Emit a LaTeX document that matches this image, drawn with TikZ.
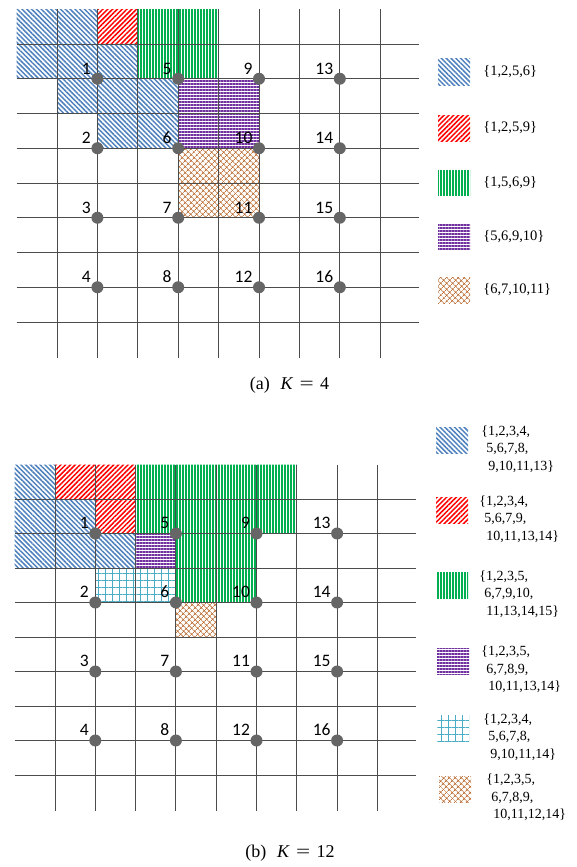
\documentclass[tikz,border=0pt]{standalone}
\usepackage{fontspec}
\usepackage{graphicx}
\setmainfont{Liberation Serif}
\newfontfamily\calibrifont{Carlito}
\usetikzlibrary{patterns.meta,positioning}

\definecolor{hblue}{RGB}{79,129,189}
\definecolor{hred}{RGB}{255,0,0}
\definecolor{hgreen}{RGB}{0,176,80}
\definecolor{hpurple}{RGB}{112,48,160}
\definecolor{hbrown}{RGB}{190,115,60}
\definecolor{haqua}{RGB}{75,172,198}

\tikzset{
  gridline/.style={black!70,line width=0.9pt},
  hatchblue/.style={pattern={Lines[angle=-45,distance=3.4pt,line width=1.5pt]},pattern color=hblue},
  hatchred/.style={pattern={Lines[angle=45,distance=3.4pt,line width=1.5pt]},pattern color=hred},
  hatchgreen/.style={pattern={Lines[angle=90,distance=3pt,line width=1.3pt]},pattern color=hgreen},
  hatchpurple/.style={pattern={Lines[angle=0,distance=3pt,line width=1.3pt]},pattern color=hpurple},
  hatchbrown/.style={pattern={Hatch[angle=45,distance=4pt,line width=0.8pt]},pattern color=hbrown},
  hatchaqua/.style={pattern={Hatch[angle=0,distance=7pt,line width=0.7pt]},pattern color=haqua},
  sensordot/.style={circle,fill=black!60,minimum size=12pt,inner sep=0pt},
  numlbl/.style={font=\calibrifont\fontsize{17.5}{20}\selectfont,inner sep=0pt},
  swatch/.style={minimum width=32pt,minimum height=26pt,inner sep=0pt},
  legtext/.style={inner sep=0pt,align=left},
  subcap/.style={font=\rmfamily\fontsize{18}{22}\selectfont,inner sep=0pt}
}

\begin{document}
\begin{tikzpicture}[x=1pt,y=-1pt]
	\useasboundingbox (0,0) rectangle (576,867);
	
	% (a) K = 4
	\begin{scope}[shift={(57,44)},x=40.4pt,y=-34.75pt]
		\fill[hatchblue] (-1,-1) -- (1,-1) -- (1,0) -- (2,0) -- (2,1) -- (3,1) -- (3,3) -- (1,3) -- (1,2) -- (0,2) -- (0,1) -- (-1,1) -- cycle;
		\fill[hatchred] (1,-1) rectangle (2,0);
		\fill[hatchgreen] (2,-1) rectangle (4,1);
		\fill[hatchpurple] (3,1) rectangle (5,3);
		\fill[hatchbrown] (3,3) rectangle (5,5);
		
		\foreach \i in {0,...,8} {
			\draw[gridline] (\i,-1) -- (\i,9.05);
			\draw[gridline] (-1,\i) -- (8.95,\i);
		}
		
		\foreach \c in {1,3,5,7}
			\foreach \r in {1,3,5,7} {
				\pgfmathtruncatemacro{\n}{2*(\c-1)+(\r-1)/2+1}
				\node[sensordot] (a\n) at (\c,\r) {};
				\node[numlbl,above left=0pt and 2pt of a\n] (numa\n) {\n};
			}
	\end{scope}
	
	\begin{scope}[legtext/.append style={font=\rmfamily\fontsize{14.5}{17.5}\selectfont}]
		\node[swatch,hatchblue] (keya1) at (454,72) {};
		\node[swatch,hatchred] (keya2) at (454,128) {};
		\node[swatch,hatchgreen] (keya3) at (454,183) {};
		\node[swatch,hatchpurple] (keya4) at (454,237) {};
		\node[swatch,hatchbrown] (keya5) at (454,290) {};
		\node[legtext,right=13pt of keya1] (texta1) {\{1,2,5,6\}};
		\node[legtext,right=13pt of keya2] (texta2) {\{1,2,5,9\}};
		\node[legtext,right=13pt of keya3] (texta3) {\{1,5,6,9\}};
		\node[legtext,right=13pt of keya4] (texta4) {\{5,6,9,10\}};
		\node[legtext,right=13pt of keya5] (texta5) {\{6,7,10,11\}};
	\end{scope}
	
	\node[subcap] (capa) at (289.5,385) {(a)\hspace{0.6em}\textit{K}\hspace{0.35em}\scalebox{1.4}[1]{=}\hspace{0.35em}4};
	
	% (b) K = 12
	\begin{scope}[shift={(55,499)},x=40.3pt,y=-34.5pt]
		\fill[hatchblue] (-1,-1) -- (0,-1) -- (0,0) -- (1,0) -- (1,1) -- (2,1) -- (2,2) -- (-1,2) -- cycle;
		\fill[hatchred] (0,-1) -- (2,-1) -- (2,1) -- (1,1) -- (1,0) -- (0,0) -- cycle;
		\fill[hatchgreen] (2,-1) -- (6,-1) -- (6,1) -- (5,1) -- (5,3) -- (3,3) -- (3,1) -- (2,1) -- cycle;
		\fill[hatchpurple] (2,1) rectangle (3,2);
		\fill[hatchaqua] (1,2) rectangle (3,3);
		\fill[hatchbrown] (3,3) rectangle (4,4);
		
		\foreach \i in {0,...,8} {
			\draw[gridline] (\i,-1) -- (\i,9.05);
			\draw[gridline] (-1,\i) -- (8.95,\i);
		}
		
		\foreach \c in {1,3,5,7}
			\foreach \r in {1,3,5,7} {
				\pgfmathtruncatemacro{\n}{2*(\c-1)+(\r-1)/2+1}
				\node[sensordot] (b\n) at (\c,\r) {};
				\node[numlbl,above left=0pt and 2pt of b\n] (numb\n) {\n};
			}
	\end{scope}
	
	\begin{scope}[legtext/.append style={font=\rmfamily\fontsize{14}{17.5}\selectfont,anchor=north west,yshift=2pt}]
		\node[swatch,hatchblue] (keyb1) at (452,440.5) {};
		\node[swatch,hatchred] (keyb2) at (452,510.5) {};
		\node[swatch,hatchgreen] (keyb3) at (452,585.5) {};
		\node[swatch,hatchpurple] (keyb4) at (453,661) {};
		\node[swatch,hatchaqua] (keyb5) at (453,728.5) {};
		\node[swatch,hatchbrown] (keyb6) at (455,789) {};
		\node[legtext,right=13pt of keyb1.north east,anchor=north west] (textb1) {\{1,2,3,4,\\\hspace*{5pt}5,6,7,8,\\\hspace*{7pt}9,10,11,13\}};
		\node[legtext,right=11pt of keyb2.north east,anchor=north west] (textb2) {\{1,2,3,4,\\\hspace*{5pt}5,6,7,9,\\\hspace*{7pt}10,11,13,14\}};
		\node[legtext,right=11pt of keyb3.north east,anchor=north west] (textb3) {\{1,2,3,5,\\\hspace*{5pt}6,7,9,10,\\\hspace*{7pt}11,13,14,15\}};
		\node[legtext,right=12pt of keyb4.north east,anchor=north west] (textb4) {\{1,2,3,5,\\\hspace*{5pt}6,7,8,9,\\\hspace*{7pt}10,11,13,14\}};
		\node[legtext,right=14pt of keyb5.north east,anchor=north west] (textb5) {\{1,2,3,4,\\\hspace*{5pt}5,6,7,8,\\\hspace*{7pt}9,10,11,14\}};
		\node[legtext,right=15pt of keyb6.north east,anchor=north west] (textb6) {\{1,2,3,5,\\\hspace*{5pt}6,7,8,9,\\\hspace*{7pt}10,11,12,14\}};
	\end{scope}
	
	\node[subcap] (capb) at (290,853) {(b)\hspace{0.6em}\textit{K}\hspace{0.35em}\scalebox{1.4}[1]{=}\hspace{0.35em}12};
	
\end{tikzpicture}
\end{document}
